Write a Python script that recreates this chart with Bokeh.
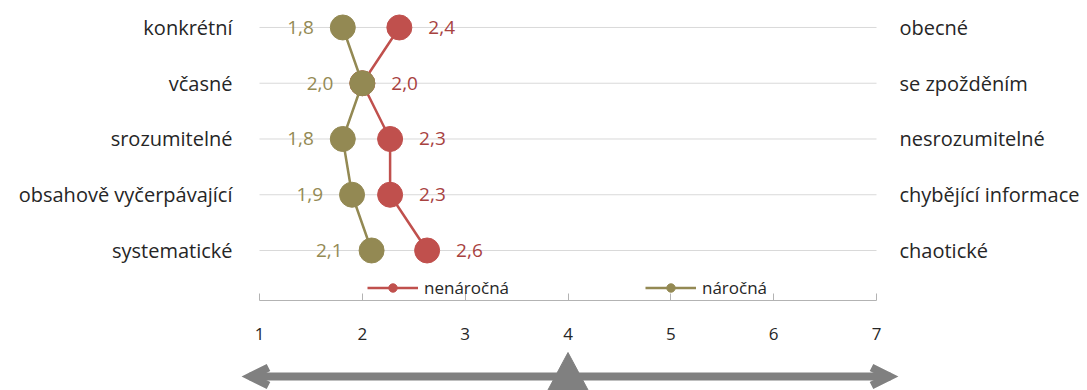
from bokeh.plotting import figure
from bokeh.models import Range1d, FixedTicker, Legend, LegendItem
from bokeh.layouts import column
from bokeh.core.properties import value
from bokeh.embed import file_html
from bokeh.resources import INLINE

# ---- data ----
left_labels = ["konkrétní", "včasné", "srozumitelné", "obsahově vyčerpávající", "systematické"]
right_labels = ["obecné", "se zpožděním", "nesrozumitelné", "chybějící informace", "chaotické"]
nenarocna = [2.36, 2.0, 2.27, 2.27, 2.63]
narocna = [1.81, 2.0, 1.81, 1.9, 2.09]
series_names = ["nenáročná", "náročná"]
x_ticks = [1, 2, 3, 4, 5, 6, 7]

RED = "#C0504D"
RED_TXT = "#A8423F"
OLIVE = "#938953"
OLIVE_TXT = "#948A54"
TXT = "#262626"
GRAY = "#808080"
FONT = "Open Sans"

n = len(left_labels)
ypos = [n - i for i in range(n)]
xmin, xmax = x_ticks[0], x_ticks[-1]

def fmt(v):
    return f"{v:.1f}".replace(".", ",")

# pixel geometry of the scale (x=1 at 259 px, x=7 at 876 px)
W = 1087
PX_LO, PX_HI = 259, 876
upx = (PX_HI - PX_LO) / (xmax - xmin)
def px2x(px):
    return xmin + (px - PX_LO) / upx

Y0, Y1 = 0.103, 5.484
p = figure(width=W, height=345, x_range=Range1d(px2x(0), px2x(W)), y_range=Range1d(Y0, Y1),
           min_border_left=0, min_border_right=0, min_border_top=0, min_border_bottom=45,
           y_axis_type=None, output_backend="svg", toolbar_location=None,
           outline_line_color=None, background_fill_color=None, border_fill_color=None)

xa = p.xaxis[0]
xa.ticker = FixedTicker(ticks=x_ticks)
xa.bounds = (xmin, xmax)
xa.major_tick_in = 7
xa.major_tick_out = 0
xa.minor_tick_line_color = None
xa.axis_line_color = "#B3B3B3"
xa.major_tick_line_color = "#B3B3B3"
xa.major_label_text_font = FONT
xa.major_label_text_font_size = "17px"
xa.major_label_text_color = TXT
xa.major_label_standoff = 27
p.xgrid.visible = False

# horizontal grid lines across the scale
p.segment(x0=xmin, x1=xmax, y0=ypos, y1=ypos, line_color="#D9D9D9", line_width=1)

# category labels on both ends of the scale
p.text(x=xmin, y=ypos, text=left_labels, x_offset=-27, text_align="right",
       text_baseline="middle", text_font=value(FONT), text_font_size="20px", text_color=TXT)
p.text(x=xmax, y=ypos, text=right_labels, x_offset=23, text_align="left",
       text_baseline="middle", text_font=value(FONT), text_font_size="20px", text_color=TXT)

l_red = p.line(nenarocna, ypos, line_color=RED, line_width=2.5)
s_red = p.scatter(nenarocna, ypos, size=25, fill_color=RED, line_color=RED)
l_ol = p.line(narocna, ypos, line_color=OLIVE, line_width=2.5)
s_ol = p.scatter(narocna, ypos, size=25, fill_color=OLIVE, line_color=OLIVE)

p.text(x=nenarocna, y=ypos, text=[fmt(v) for v in nenarocna], x_offset=29,
       text_align="left", text_baseline="middle", text_font=value(FONT),
       text_font_size="19px", text_color=RED_TXT)
p.text(x=narocna, y=ypos, text=[fmt(v) for v in narocna], x_offset=-29,
       text_align="right", text_baseline="middle", text_font=value(FONT),
       text_font_size="19px", text_color=OLIVE_TXT)

legend = Legend(items=[LegendItem(label=series_names[0], renderers=[l_red, s_red]),
                       LegendItem(label=series_names[1], renderers=[l_ol, s_ol])],
                orientation="horizontal", location=(367, 1),
                glyph_width=51, glyph_height=21, label_height=21, label_width=200,
                label_standoff=6, spacing=21, padding=0, margin=0,
                border_line_color=None, background_fill_alpha=0,
                label_text_font=FONT, label_text_font_size="17px",
                label_text_color=TXT, label_text_baseline="middle")
p.add_layout(legend)

# ---- bottom strip: double arrow with the neutral-point marker ----
H2 = 45
q = figure(width=W, height=H2, x_range=Range1d(px2x(0), px2x(W)), y_range=Range1d(0, H2),
           min_border_left=0, min_border_right=0, min_border_top=0, min_border_bottom=0,
           x_axis_type=None, y_axis_type=None, output_backend="svg", toolbar_location=None,
           outline_line_color=None, background_fill_color=None, border_fill_color=None)
q.grid.visible = False
ay = 14  # arrow height in strip pixels
q.line([px2x(249), px2x(890)], [ay, ay], line_color=GRAY, line_width=8)
q.multi_line([[px2x(268), px2x(250), px2x(268)], [px2x(871), px2x(889), px2x(871)]],
             [[ay + 9, ay, ay - 9], [ay + 9, ay, ay - 9]],
             line_color=GRAY, line_width=8, line_join="miter")
mid = (xmin + xmax) / 2
q.patch([mid - 23 / upx, mid, mid + 23 / upx], [-5, 38, -5], fill_color=GRAY, line_color=GRAY)

layout = column(p, q, spacing=0)
open("out.html", "w").write(file_html(layout, INLINE))
